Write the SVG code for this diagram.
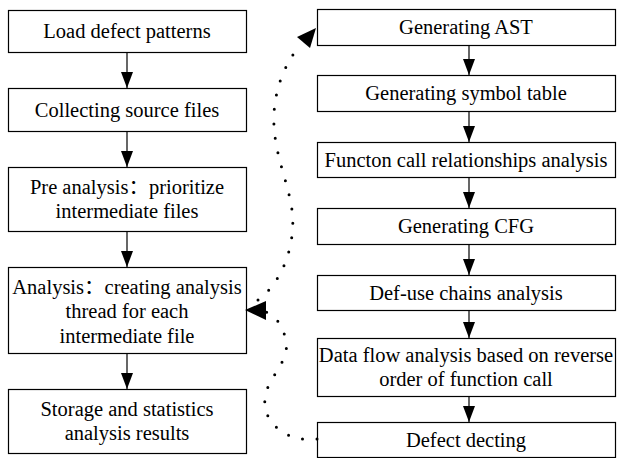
<svg xmlns="http://www.w3.org/2000/svg" width="617" height="458" viewBox="0 0 617 458">
<style>
.box{fill:#fff;stroke:#000;stroke-width:1.2}
.t{font-family:"Liberation Serif","Noto Sans CJK SC",serif;font-size:20.5px;fill:#000;text-anchor:middle}
.ln{stroke:#000;stroke-width:1.2;fill:none}
.dot{stroke:#000;stroke-width:3;fill:none;stroke-linecap:round;stroke-dasharray:0 14.5}
</style>
<defs>
<marker id="ah" markerWidth="16" markerHeight="12" refX="16" refY="6" orient="auto" markerUnits="userSpaceOnUse">
<polygon points="0,0 16,6 0,12" fill="#000"/>
</marker>
</defs>
<rect width="617" height="458" fill="#fff"/>
<g id="n1"><rect class="box" x="8.5" y="10.5" width="238" height="42"/><text class="t" x="127" y="38">Load defect patterns</text></g>
<g id="n2"><rect class="box" x="8.5" y="88.5" width="238" height="43"/><text class="t" x="127" y="117">Collecting source files</text></g>
<g id="n3"><rect class="box" x="8.5" y="167.5" width="238" height="64"/><text class="t" x="127" y="194">Pre analysis：prioritize</text><text class="t" x="127" y="218">intermediate files</text></g>
<g id="n4"><rect class="box" x="8.5" y="267.5" width="238" height="86"/><text class="t" x="127" y="294">Analysis：creating analysis</text><text class="t" x="127" y="318">thread for each</text><text class="t" x="127" y="343">intermediate file</text></g>
<g id="n5"><rect class="box" x="8.5" y="389.5" width="238" height="64"/><text class="t" x="127" y="416">Storage and statistics</text><text class="t" x="127" y="440">analysis results</text></g>
<g id="r1"><rect class="box" x="317.5" y="9.5" width="298" height="36"/><text class="t" x="466" y="34">Generating AST</text></g>
<g id="r2"><rect class="box" x="317.5" y="75.5" width="298" height="36"/><text class="t" x="466" y="100">Generating symbol table</text></g>
<g id="r3"><rect class="box" x="317.5" y="142.5" width="298" height="35"/><text class="t" x="466" y="167">Functon call relationships analysis</text></g>
<g id="r4"><rect class="box" x="317.5" y="208.5" width="298" height="36"/><text class="t" x="466" y="233">Generating CFG</text></g>
<g id="r5"><rect class="box" x="317.5" y="275.5" width="298" height="35"/><text class="t" x="466" y="300">Def-use chains analysis</text></g>
<g id="r6"><rect class="box" x="317.5" y="338.5" width="298" height="58"/><text class="t" x="466" y="362">Data flow analysis based on reverse</text><text class="t" x="466" y="386">order of function call</text></g>
<g id="r7"><rect class="box" x="317.5" y="422.5" width="298" height="35"/><text class="t" x="466" y="447">Defect decting</text></g>
<g id="connectors">
<line class="ln" x1="127" y1="52.5" x2="127" y2="88" marker-end="url(#ah)"/>
<line class="ln" x1="127" y1="131.5" x2="127" y2="167" marker-end="url(#ah)"/>
<line class="ln" x1="127" y1="231.5" x2="127" y2="267" marker-end="url(#ah)"/>
<line class="ln" x1="127" y1="353.5" x2="127" y2="389" marker-end="url(#ah)"/>
<line class="ln" x1="469" y1="45.5" x2="469" y2="75" marker-end="url(#ah)"/>
<line class="ln" x1="469" y1="111.5" x2="469" y2="142" marker-end="url(#ah)"/>
<line class="ln" x1="469" y1="177.5" x2="469" y2="208" marker-end="url(#ah)"/>
<line class="ln" x1="469" y1="244.5" x2="469" y2="275" marker-end="url(#ah)"/>
<line class="ln" x1="469" y1="310.5" x2="469" y2="338" marker-end="url(#ah)"/>
<line class="ln" x1="469" y1="396.5" x2="469" y2="422" marker-end="url(#ah)"/>
<path class="dot" d="M317,439 C290,443 262,425 265,398 C267,378 290,362 286,341 C283,326 276,316 266,312"/>
<polygon points="245,310 266,301 266,320" fill="#000"/>
<path class="dot" d="M258,300 C285,280 296,240 292,210 C288,180 272,150 274,113 C276,82 288,60 300,45"/>
<polygon points="316,28 310,48 297,37" fill="#000"/>
</g>
</svg>
